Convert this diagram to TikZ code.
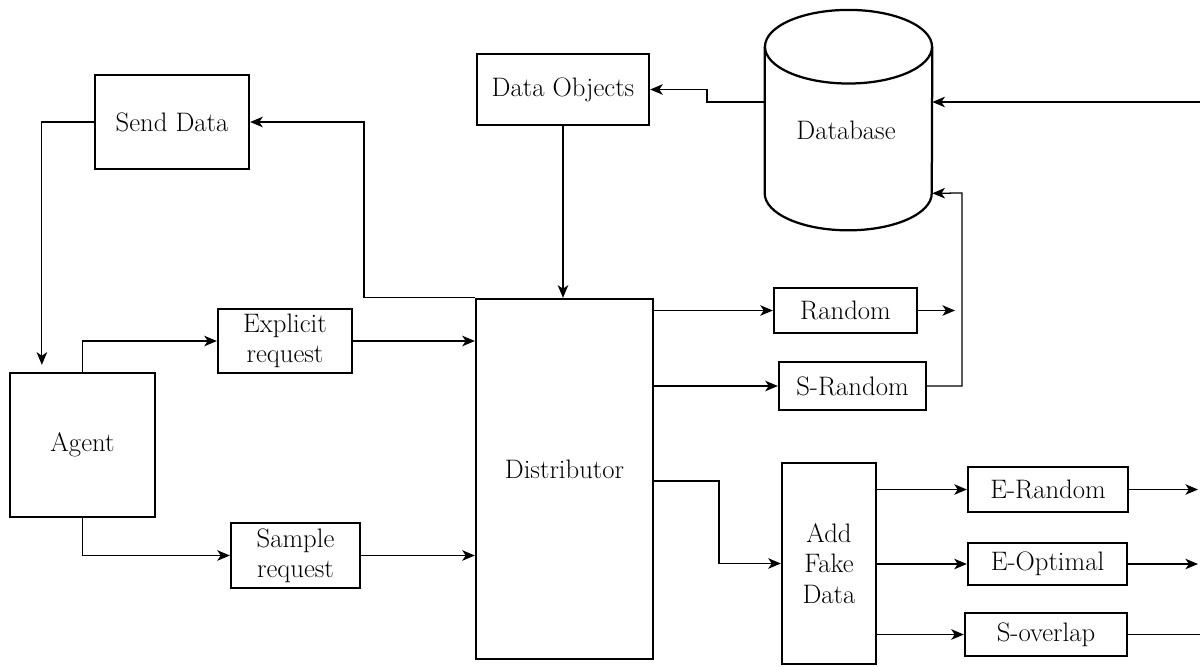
\documentclass[tikz,border=0pt]{standalone}
\usetikzlibrary{arrows.meta,calc}
\begin{document}
\begin{tikzpicture}[x=0.025cm,y=-0.025cm,
  font=\fontsize{19}{21.5}\selectfont,
  blk/.style={draw,line width=1.6pt,inner sep=2pt,align=center,anchor=center},
  conn/.style={line width=0.9pt,-{Stealth[length=9pt,width=7.5pt,inset=2.5pt]}},
  plain/.style={line width=0.9pt}]
\useasboundingbox (0,0) rectangle (1200,666);

% blocks
\node[blk,minimum width=3.85cm,minimum height=2.35cm] (send) at (172,122) {Send Data};
\node[blk,minimum width=4.3cm,minimum height=1.775cm] (dataobj) at (563,89.5) {Data Objects};
\node[blk,minimum width=3.35cm,minimum height=1.6cm] (explicit) at (285,341) {Explicit\\request};
\node[blk,minimum width=3.625cm,minimum height=3.6cm] (agent) at (82.5,445) {Agent};
\node[blk,minimum width=3.225cm,minimum height=1.625cm] (sample) at (295.5,555.5) {Sample\\request};
\node[blk,minimum width=4.425cm,minimum height=9cm,text depth=14pt] (dist) at (564.5,479) {Distributor};
\node[blk,minimum width=3.575cm,minimum height=1.125cm] (random) at (845.5,310.5) {Random};
\node[blk,minimum width=3.675cm,minimum height=1.2cm] (srandom) at (852.5,386) {S-Random};
\node[blk,minimum width=2.35cm,minimum height=5.025cm] (addfake) at (829,563.5) {Add\\Fake\\Data};
\node[blk,minimum width=4cm,minimum height=1.125cm] (erandom) at (1048,489.5) {E-Random};
\node[blk,minimum width=3.975cm,minimum height=1.05cm] (eoptimal) at (1047.5,564) {E-Optimal};
\node[blk,minimum width=4.05cm,minimum height=1.075cm] (soverlap) at (1046,634.5) {S-overlap};

% database cylinder
\node[minimum width=4.175cm,minimum height=3.65cm,inner sep=0pt] (db) at (848.5,120) {};
\node (dbtext) at (846,130) {Database};
\draw[line width=1.6pt] (db.north) ellipse [x radius=2.0875cm,y radius=0.92cm];
\draw[line width=1.6pt] (db.north west) -- (db.south west)
  arc [start angle=180,end angle=360,x radius=2.0875cm,y radius=0.925cm]
  -- (db.north east);

% free ends and bends
\coordinate (dbin) at (1200,102);
\coordinate (dbjog) at (707,102);
\coordinate (senddrop) at ($(agent.north west)+(33,0)$);
\coordinate (sendup) at (364,299);
\coordinate (rndout) at (955,310.5);
\coordinate (dbjoin) at (962,193);
\coordinate (fakebend) at (719,481);
\coordinate (erout) at (1198,489.5);
\coordinate (eoout) at (1198,564);
\coordinate (soout) at (1200,634.5);

% connectors
\draw[conn] (dbin) -- (db.east |- dbin);
\draw[conn] (db.west |- dbin) -- (dbjog) |- (dataobj.east);
\draw[conn] (dataobj.south) -- (dataobj.south |- dist.north);
\draw[conn] (dist.north west) -- (sendup |- dist.north west) |- (send.east);
\draw[conn,shorten >=5pt] (send.west) -| (senddrop);
\draw[conn] (agent.north) |- (explicit.west);
\draw[conn] (explicit.east) -- (dist.west |- explicit.east);
\draw[conn] (agent.south) |- (sample.west);
\draw[conn] (sample.east) -- (dist.west |- sample.east);
\draw[conn] (dist.east |- random.west) -- (random.west);
\draw[conn] (dist.east |- srandom.west) -- (srandom.west);
\draw[conn] (random.east) -- (rndout);
\draw[conn] (srandom.east) -| (dbjoin) -- (db.south east);
\draw[conn] (dist.east |- fakebend) -- (fakebend) |- (addfake.west);
\draw[conn] (addfake.east |- erandom.west) -- (erandom.west);
\draw[conn] (addfake.east |- eoptimal.west) -- (eoptimal.west);
\draw[conn] (addfake.east |- soverlap.west) -- (soverlap.west);
\draw[conn] (erandom.east) -- (erout);
\draw[conn] (eoptimal.east) -- (eoout);
\draw[plain] (soverlap.east) -- (soout);
\end{tikzpicture}
\end{document}
